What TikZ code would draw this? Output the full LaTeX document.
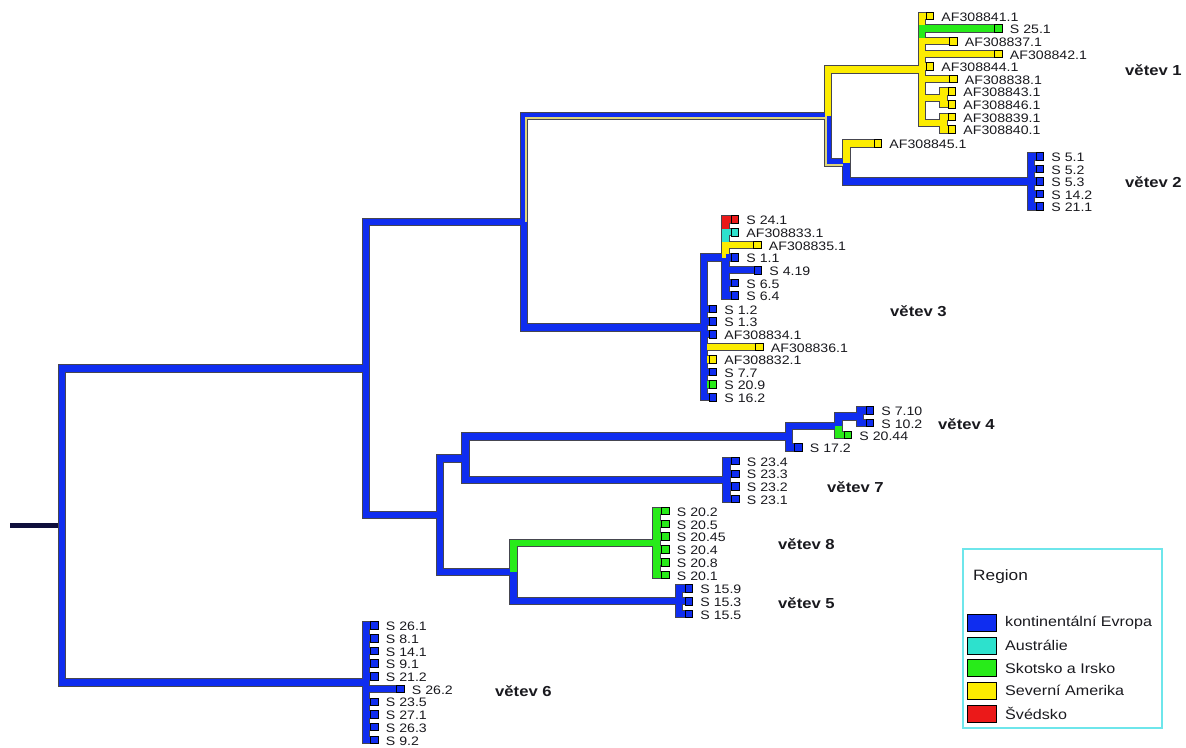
\documentclass[tikz,border=0pt]{standalone}
\usepackage{fontspec}
\setmainfont{Liberation Sans}[FakeStretch=1.15]
\definecolor{cblue}{RGB}{15,45,240}
\definecolor{cyel}{RGB}{252,236,0}
\definecolor{cgreen}{RGB}{40,235,25}
\definecolor{ccyan}{RGB}{45,225,205}
\definecolor{cred}{RGB}{235,25,25}
\definecolor{ckhaki}{RGB}{222,212,120}
\definecolor{coutline}{RGB}{70,70,80}
\definecolor{ctext}{RGB}{25,25,30}
\definecolor{cframe}{RGB}{110,230,235}
\definecolor{cstub}{RGB}{15,15,60}
\newcommand{\TreeEdges}{%
\TE{R}{A}{cblue}\TE{R}{S6}{cblue}%
\TE{A}{B}{cblue}\TE{A}{C}{cblue}%
\TE{B}{D}{cblue}\TS{B}{D}{2.2}\TE{B}{E}{cblue}%
\TE{D}{G}{cyel}\TE{D}{F}{cblue}\TS{D}{F}{-2.2}%
\TE{G}{g1}{cyel}\TE{G}{g2}{cgreen}\TE{G}{g3}{cyel}\TE{G}{g4}{cyel}%
\TE{G}{g5}{cyel}\TE{G}{g6}{cyel}\TE{G}{K1}{cyel}\TE{G}{K2}{cyel}%
\TE{K1}{g7}{cyel}\TE{K1}{g8}{cyel}\TE{K2}{g9}{cyel}\TE{K2}{g10}{cyel}%
\TE{F}{f1}{cyel}\TE{F}{L}{cblue}%
\TE{L}{l1}{cblue}\TE{L}{l2}{cblue}\TE{L}{l3}{cblue}\TE{L}{l4}{cblue}\TE{L}{l5}{cblue}%
\TE{E}{H}{cblue}%
\TE{E}{e1}{cblue}\TE{E}{e2}{cblue}\TE{E}{e3}{cblue}\TE{E}{e4}{cyel}%
\TE{E}{e5}{cyel}\TE{E}{e6}{cblue}\TE{E}{e7}{cgreen}\TE{E}{e8}{cblue}%
\TE{H}{h1}{cred}\TE{H}{h2}{ccyan}\TE{H}{h3}{cyel}\TE{H}{h4}{cblue}%
\TE{H}{h5}{cblue}\TE{H}{h6}{cblue}\TE{H}{h7}{cblue}%
\TE{C}{I}{cblue}\TE{C}{J}{cblue}%
\TE{I}{M}{cblue}\TE{I}{N}{cblue}%
\TE{M}{O}{cblue}\TE{M}{m1}{cblue}%
\TE{O}{P}{cblue}\TE{O}{o1}{cgreen}%
\TE{P}{p1}{cblue}\TE{P}{p2}{cblue}%
\TE{N}{n1}{cblue}\TE{N}{n2}{cblue}\TE{N}{n3}{cblue}\TE{N}{n4}{cblue}%
\TE{J}{Q}{cgreen}\TE{J}{R5}{cblue}%
\TE{Q}{q1}{cgreen}\TE{Q}{q2}{cgreen}\TE{Q}{q3}{cgreen}\TE{Q}{q4}{cgreen}\TE{Q}{q5}{cgreen}\TE{Q}{q6}{cgreen}%
\TE{R5}{r1}{cblue}\TE{R5}{r2}{cblue}\TE{R5}{r3}{cblue}%
\TE{S6}{s1}{cblue}\TE{S6}{s2}{cblue}\TE{S6}{s3}{cblue}\TE{S6}{s4}{cblue}\TE{S6}{s5}{cblue}%
\TE{S6}{s6}{cblue}\TE{S6}{s7}{cblue}\TE{S6}{s8}{cblue}\TE{S6}{s9}{cblue}\TE{S6}{s10}{cblue}%
}
\newcommand{\Leaf}[3]{\node[leafbox,fill=#2] (#1b) at (#1) {};
  \node[lab] (#1t) at ([xshift=7.5pt,yshift=-1pt]#1b.east) {#3};}
\begin{document}
\begin{tikzpicture}[x=1pt,y=-1pt,
  bandout/.style={line width=8.4pt, draw=coutline, line cap=square, line join=miter},
  bandfill/.style={line width=6.4pt, line cap=square, line join=miter},
  stripe/.style={line width=2.2pt, draw=ckhaki, line cap=butt, line join=miter},
  leafbox/.style={draw=black, line width=0.9pt, minimum size=7.5pt, inner sep=0pt, outer sep=0pt},
  lab/.style={font=\fontsize{12.3}{12.3}\selectfont, text=ctext, inner sep=0pt, anchor=west},
  vlab/.style={font=\bfseries\fontsize{14.5}{14.5}\selectfont, text=ctext, inner sep=0pt, anchor=west},
  legtext/.style={font=\fontsize{14}{14}\selectfont, text=ctext, inner sep=0pt, anchor=west},
  swatch/.style={draw=black, line width=0.8pt, minimum width=29pt, minimum height=17pt, inner sep=0pt, anchor=west}]
\useasboundingbox (0,0) rectangle (1186,747);
% internal nodes
\coordinate (R) at (62,525.55);
\coordinate (stub) at (10,525.55);
\coordinate (A) at (366,368.45);
\coordinate (S6) at (366,682.65);
\coordinate (B) at (524,221.7);
\coordinate (C) at (440,515.2);
\coordinate (D) at (828,116);
\coordinate (E) at (704,327.35);
\coordinate (G) at (922,69.55);
\coordinate (K1) at (943.5,97.9);
\coordinate (K2) at (943.5,123.1);
\coordinate (F) at (846.5,162.5);
\coordinate (L) at (1031,181.5);
\coordinate (H) at (725.5,257.5);
\coordinate (I) at (465.5,458.3);
\coordinate (J) at (513.5,572.1);
\coordinate (M) at (789,436.65);
\coordinate (O) at (838.5,425.8);
\coordinate (P) at (860,416.65);
\coordinate (N) at (726.5,480);
\coordinate (Q) at (656.5,543);
\coordinate (R5) at (679,601.2);
% leaves
\coordinate (g1) at (930,16);
\coordinate (g2) at (998.5,28.6);
\coordinate (g3) at (953.5,41.2);
\coordinate (g4) at (998.5,53.8);
\coordinate (g5) at (930,66.4);
\coordinate (g6) at (953.5,79);
\coordinate (g7) at (952,91.6);
\coordinate (g8) at (952,104.2);
\coordinate (g9) at (952,116.8);
\coordinate (g10) at (952,129.4);
\coordinate (f1) at (878,143.5);
\coordinate (l1) at (1040,156.5);
\coordinate (l2) at (1040,169);
\coordinate (l3) at (1040,181.5);
\coordinate (l4) at (1040,194);
\coordinate (l5) at (1040,206.5);
\coordinate (h1) at (735,219.5);
\coordinate (h2) at (735,232.2);
\coordinate (h3) at (757.5,244.8);
\coordinate (h4) at (735,257.5);
\coordinate (h5) at (758,270.2);
\coordinate (h6) at (735,282.8);
\coordinate (h7) at (735,295.5);
\coordinate (e1) at (713,309);
\coordinate (e2) at (713,321.6);
\coordinate (e3) at (713,334.2);
\coordinate (e4) at (759.5,346.8);
\coordinate (e5) at (713,359.4);
\coordinate (e6) at (713,372);
\coordinate (e7) at (713,384.6);
\coordinate (e8) at (713,397.2);
\coordinate (p1) at (870,410.5);
\coordinate (p2) at (870,422.8);
\coordinate (o1) at (848,435);
\coordinate (m1) at (798.5,447.5);
\coordinate (n1) at (735.5,461);
\coordinate (n2) at (735.5,473.7);
\coordinate (n3) at (735.5,486.3);
\coordinate (n4) at (735.5,499);
\coordinate (q1) at (665.5,511);
\coordinate (q2) at (665.5,523.8);
\coordinate (q3) at (665.5,536.6);
\coordinate (q4) at (665.5,549.4);
\coordinate (q5) at (665.5,562.2);
\coordinate (q6) at (665.5,575);
\coordinate (r1) at (689,588.5);
\coordinate (r2) at (689,601.2);
\coordinate (r3) at (689,614);
\coordinate (s1) at (374.5,625.5);
\coordinate (s2) at (374.5,638.2);
\coordinate (s3) at (374.5,650.9);
\coordinate (s4) at (374.5,663.6);
\coordinate (s5) at (374.5,676.3);
\coordinate (s6) at (400.5,689);
\coordinate (s7) at (374.5,701.7);
\coordinate (s8) at (374.5,714.4);
\coordinate (s9) at (374.5,727.1);
\coordinate (s10) at (374.5,739.8);
% root stub
\draw[line width=4.5pt, draw=cstub] (stub) -- (R);
% outlines
\def\TE#1#2#3{\draw[bandout] (#1) |- (#2);}
\def\TS#1#2#3{}
\TreeEdges
% fills
\def\TE#1#2#3{\draw[bandfill,draw=#3] (#1) |- (#2);}
\def\TS#1#2#3{\draw[stripe] ([xshift=#3pt]#1) |- ([yshift=-2.1pt]#2);}
\TreeEdges
% leaves
\Leaf{g1}{cyel}{AF308841.1}
\Leaf{g2}{cgreen}{S 25.1}
\Leaf{g3}{cyel}{AF308837.1}
\Leaf{g4}{cyel}{AF308842.1}
\Leaf{g5}{cyel}{AF308844.1}
\Leaf{g6}{cyel}{AF308838.1}
\Leaf{g7}{cyel}{AF308843.1}
\Leaf{g8}{cyel}{AF308846.1}
\Leaf{g9}{cyel}{AF308839.1}
\Leaf{g10}{cyel}{AF308840.1}
\Leaf{f1}{cyel}{AF308845.1}
\Leaf{l1}{cblue}{S 5.1}
\Leaf{l2}{cblue}{S 5.2}
\Leaf{l3}{cblue}{S 5.3}
\Leaf{l4}{cblue}{S 14.2}
\Leaf{l5}{cblue}{S 21.1}
\Leaf{h1}{cred}{S 24.1}
\Leaf{h2}{ccyan}{AF308833.1}
\Leaf{h3}{cyel}{AF308835.1}
\Leaf{h4}{cblue}{S 1.1}
\Leaf{h5}{cblue}{S 4.19}
\Leaf{h6}{cblue}{S 6.5}
\Leaf{h7}{cblue}{S 6.4}
\Leaf{e1}{cblue}{S 1.2}
\Leaf{e2}{cblue}{S 1.3}
\Leaf{e3}{cblue}{AF308834.1}
\Leaf{e4}{cyel}{AF308836.1}
\Leaf{e5}{cyel}{AF308832.1}
\Leaf{e6}{cblue}{S 7.7}
\Leaf{e7}{cgreen}{S 20.9}
\Leaf{e8}{cblue}{S 16.2}
\Leaf{p1}{cblue}{S 7.10}
\Leaf{p2}{cblue}{S 10.2}
\Leaf{o1}{cgreen}{S 20.44}
\Leaf{m1}{cblue}{S 17.2}
\Leaf{n1}{cblue}{S 23.4}
\Leaf{n2}{cblue}{S 23.3}
\Leaf{n3}{cblue}{S 23.2}
\Leaf{n4}{cblue}{S 23.1}
\Leaf{q1}{cgreen}{S 20.2}
\Leaf{q2}{cgreen}{S 20.5}
\Leaf{q3}{cgreen}{S 20.45}
\Leaf{q4}{cgreen}{S 20.4}
\Leaf{q5}{cgreen}{S 20.8}
\Leaf{q6}{cgreen}{S 20.1}
\Leaf{r1}{cblue}{S 15.9}
\Leaf{r2}{cblue}{S 15.3}
\Leaf{r3}{cblue}{S 15.5}
\Leaf{s1}{cblue}{S 26.1}
\Leaf{s2}{cblue}{S 8.1}
\Leaf{s3}{cblue}{S 14.1}
\Leaf{s4}{cblue}{S 9.1}
\Leaf{s5}{cblue}{S 21.2}
\Leaf{s6}{cblue}{S 26.2}
\Leaf{s7}{cblue}{S 23.5}
\Leaf{s8}{cblue}{S 27.1}
\Leaf{s9}{cblue}{S 26.3}
\Leaf{s10}{cblue}{S 9.2}
% clade labels
\node[vlab] (v1) at (1125,70.5) {větev 1};
\node[vlab] (v2) at (1125,182) {větev 2};
\node[vlab] (v3) at (890,311) {větev 3};
\node[vlab] (v4) at (938,424) {větev 4};
\node[vlab] (v7) at (827,487) {větev 7};
\node[vlab] (v8) at (778,544) {větev 8};
\node[vlab] (v5) at (778,603) {větev 5};
\node[vlab] (v6) at (495,691) {větev 6};
% legend
\node[draw=cframe, line width=1.6pt, minimum width=199pt, minimum height=179pt, inner sep=0pt, anchor=north west] (legend) at (962,548) {};
\node[font=\fontsize{15}{15}\selectfont, text=ctext, inner sep=0pt, anchor=west] (regtitle) at (973,577) {Region};
\node[swatch, fill=cblue] (sw1) at (967,623) {};
\node[swatch, fill=ccyan] (sw2) at (967,645.7) {};
\node[swatch, fill=cgreen] (sw3) at (967,668.3) {};
\node[swatch, fill=cyel] (sw4) at (967,690.7) {};
\node[swatch, fill=cred] (sw5) at (967,713.7) {};
\node[legtext] (lt1) at (1005,623) {kontinentální Evropa};
\node[legtext] (lt2) at (1005,645.7) {Austrálie};
\node[legtext] (lt3) at (1005,668.3) {Skotsko a Irsko};
\node[legtext] (lt4) at (1005,690.7) {Severní Amerika};
\node[legtext] (lt5) at (1005,713.7) {Švédsko};
\end{tikzpicture}
\end{document}
